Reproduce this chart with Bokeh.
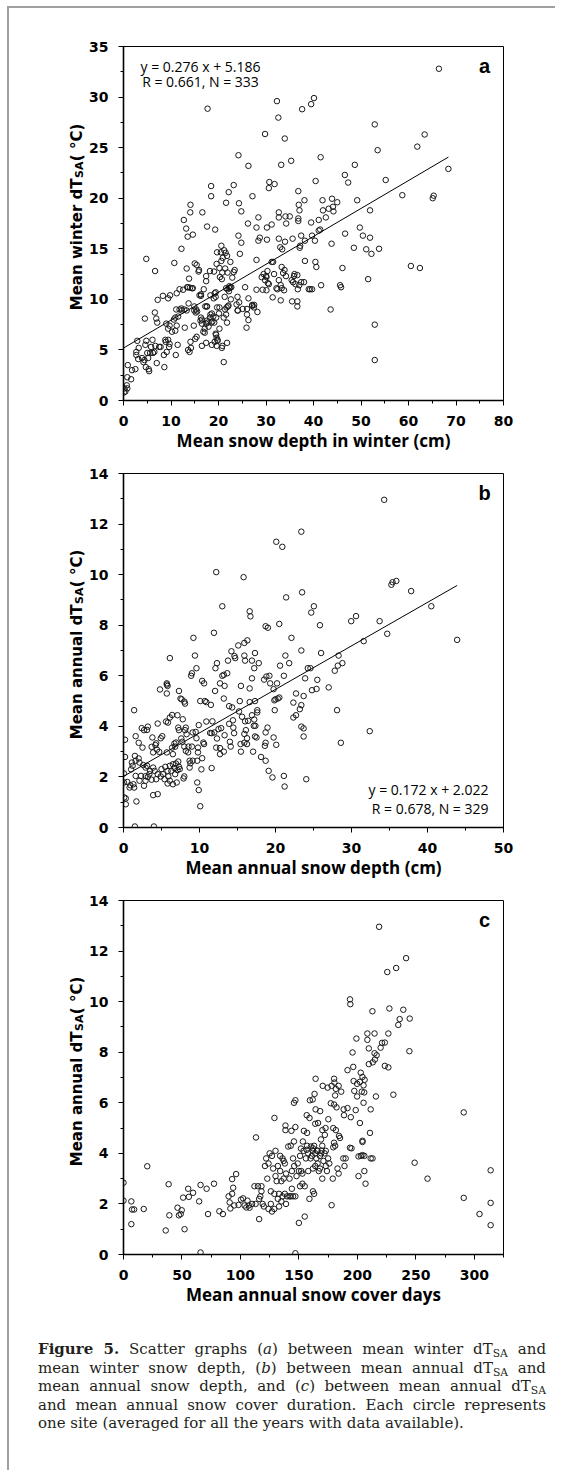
import math
from bokeh.plotting import figure
from bokeh.layouts import column, row
from bokeh.models import Range1d, SingleIntervalTicker, Label, Div
from bokeh.embed import file_html
from bokeh.resources import INLINE

# ---------------- data ----------------
# panel a: mean snow depth in winter (cm) vs mean winter dT_SA (°C)
a_pts = [
(66.4,32.8),(17.7,28.85),(32.3,29.6),(32.6,27.97),(37.6,28.8),(39.5,29.3),(40.1,29.9),(29.8,26.35),(33.95,25.9),(52.9,27.3),
(53.5,24.75),(63.4,26.3),(61.85,25.1),(24.2,24.25),(26.3,23.2),(33.2,23.3),(35.3,23.7),(41.5,24.05),(48.7,23.3),(46.6,22.3),
(47.3,21.55),(55.2,21.8),(40.45,21.7),(30.7,21.6),(30.6,21.0),(31.8,21.4),(68.4,22.9),(18.45,21.2),(18.45,20.2),(23.2,21.3),
(22.15,20.6),(27.15,20.2),(36.8,20.7),(58.7,20.3),(65.1,20.0),(65.3,20.25),(49.2,19.8),(38.1,19.8),(43.9,19.95),(41.9,19.8),
(45.0,19.6),(44.1,19.15),(43.2,18.96),(44.2,18.7),(42.0,18.8),(42.6,18.1),(21.6,19.55),(24.3,19.5),(14.1,19.35),(14.05,18.6),
(16.6,18.6),(24.8,18.7),(36.9,19.35),(37.05,18.8),(51.9,18.8),(32.7,18.6),(28.4,18.1),(32.7,18.1),(34.1,18.2),(35.0,18.2),
(36.8,18.0),(36.8,17.75),(39.5,17.6),(41.1,17.85),(12.7,17.85),(17.6,17.2),(19.3,16.9),(13.2,17.0),(13.5,16.2),(14.6,16.4),
(26.2,17.5),(28.0,17.1),(30.2,17.1),(31.2,17.4),(34.25,17.5),(41.4,16.9),(41.1,16.8),(39.7,16.3),(37.4,16.3),(46.65,16.5),
(49.75,17.1),(50.4,16.3),(51.9,16.1),(24.2,16.3),(24.8,15.6),(28.7,16.1),(28.4,15.8),(30.2,15.9),(32.7,16.0),(34.0,15.7),
(35.6,16.0),(38.2,15.8),(40.3,15.8),(43.8,15.5),(33.0,15.15),(33.4,14.95),(37.2,15.3),(37.1,15.1),(48.5,15.1),(51.1,14.95),
(52.2,14.5),(53.8,15.0),(12.2,15.0),(20.6,15.3),(19.7,14.65),(20.5,14.65),(21.2,14.85),(21.5,14.6),(21.8,14.3),(24.5,14.5),
(22.5,13.7),(20.6,13.8),(20.9,14.1),(19.6,13.5),(20.2,13.1),(18.2,12.8),(19.05,12.75),(17.4,12.3),(17.4,11.8),(20.8,12.65),
(20.3,12.2),(21.9,12.65),(21.4,13.05),(23.2,12.7),(23.4,12.9),(22.9,12.15),(22.5,11.2),(21.6,11.1),(22.3,11.1),(25.6,11.2),
(22.2,10.8),(15.0,13.55),(15.4,13.4),(13.3,13.05),(15.8,12.75),(15.9,12.9),(13.8,12.05),(13.6,11.2),(14.0,11.15),(14.4,11.1),
(10.7,13.6),(6.65,12.8),(4.8,14.0),(12.55,10.95),(11.2,10.6),(9.4,10.1),(8.3,10.35),(7.2,9.95),(9.8,10.4),(16.3,10.5),
(16.3,10.35),(14.6,11.1),(16.9,11.0),(19.4,10.7),(19.4,10.25),(19.0,10.1),(21.3,10.25),(28.0,13.9),(28.0,10.95),(29.3,10.95),
(24.0,10.25),(24.35,9.7),(26.3,10.1),(27.1,9.35),(27.45,9.2),(26.0,9.05),(27.1,9.45),(25.1,9.05),(24.0,8.9),(28.2,8.75),
(26.0,8.5),(26.3,7.95),(25.9,7.2),(27.5,9.45),
(29.5,12.5),(30.1,12.2),(30.3,12.8),(29.8,11.9),(30.4,11.6),(30.6,11.5),(31.2,13.7),(31.5,13.7),(30.0,12.3),(31.7,12.5),
(32.2,11.1),(32.7,11.9),(33.1,11.4),(33.3,13.2),(33.6,12.6),(33.9,12.9),(32.4,11.0),(33.3,11.1),(33.8,10.9),(33.1,9.9),
(31.4,10.2),(29.1,12.2),(30.1,10.9),(35.4,11.9),(35.7,11.7),(36.0,12.5),(35.9,12.3),(36.2,11.5),(36.7,11.0),(37.0,11.4),
(37.4,11.7),(38.0,11.7),(36.6,9.8),(36.6,9.3),(35.5,9.8),(38.2,13.8),(39.0,11.0),(39.3,11.0),(39.7,11.0),(40.4,13.7),
(40.6,13.2),(41.6,11.4),(43.6,9.0),(45.6,11.4),(45.8,11.2),(46.1,13.1),(51.5,12.0),(52.9,7.5),(52.9,4.0),(60.5,13.3),
(62.4,13.1),(36.6,12.4),(34.2,12.3),
(0.2,1.2),(0.1,0.8),(0.4,0.9),(0.8,1.2),(0.7,1.5),(0.8,2.3),(0.9,3.5),(1.6,2.1),(1.8,3.0),(2.5,3.1),
(2.7,4.5),(2.7,4.8),(2.9,5.9),(3.1,4.1),(3.2,5.2),(3.9,4.2),(4.2,3.8),(4.4,4.0),(4.7,3.3),(4.6,5.5),
(4.8,5.9),(5.0,4.7),(5.3,3.1),(5.4,2.9),(5.2,4.2),(5.6,4.7),(5.8,5.3),(6.1,6.0),(6.2,4.7),(6.5,4.8),
(6.7,5.4),(4.5,8.1),(6.6,8.7),(6.9,8.1),(7.1,7.7),(7.0,3.7),(7.5,5.3),(7.8,5.3),(8.6,3.3),(8.5,4.5),
(8.8,6.0),(8.9,5.8),(9.0,7.6),(9.1,4.8),(9.4,6.0),(9.6,5.3),(9.7,5.6),(9.7,7.4),(9.4,7.1),(10.2,6.8),
(11.0,4.5),(11.4,5.5),(10.9,6.9),(11.2,7.4),(10.6,8.0),(10.9,8.2),(11.1,9.0),(11.5,8.3),(11.8,9.0),(12.3,8.9),
(12.8,9.0),(13.3,8.9),(12.9,7.2),(13.7,9.6),(13.6,5.0),(13.9,4.8),(14.1,5.8),(14.2,5.2),(15.1,6.1),(15.4,6.3),
(14.8,7.4),(14.9,8.9),(15.2,8.7),(15.5,8.8),(14.9,9.3),(16.2,7.9),(16.5,7.6),(16.3,8.2),(16.5,5.4),(16.8,6.8),
(17.1,7.1),(17.1,6.7),(17.4,7.6),(17.6,7.9),(17.2,9.3),(17.6,9.3),(17.4,5.7),(17.9,7.3),(18.2,8.2),(18.5,7.7),
(18.7,7.8),(18.3,8.5),(18.6,8.6),(18.9,8.3),(19.1,7.7),(19.5,8.2),(19.5,6.5),(19.4,6.6),(19.6,6.2),(19.2,5.8),
(19.6,5.4),(18.6,5.5),(19.8,5.9),(19.8,6.0),(20.2,7.1),(20.2,9.2),(20.8,5.4),(20.7,5.2),(21.1,3.8),(21.4,9.0),
(21.7,9.2),(22.0,9.3),(21.6,8.5),(21.1,8.2),(21.8,7.7),(21.8,5.7),(22.1,9.4),(16.5,8.0),(17.7,7.7),
(11.8,11.0),(12.2,9.1),(13.4,11.2),(15.3,9.0),(16.0,10.4),(17.5,9.3),(18.3,10.4),(19.2,10.6),(20.7,12.0),(21.9,11.0),
(22.3,11.3),(22.7,11.2),(19.7,9.2),(20.1,8.6),(22.6,10.0),(23.8,9.5),(24.1,8.9),
]
a_x = [p[0] for p in a_pts]
a_y = [p[1] for p in a_pts]
a_slope, a_icpt = 0.276, 5.186

# panel b: mean annual snow depth (cm) vs mean annual dT_SA (°C)
b_pts = [
(34.3,12.96),(23.4,11.7),(20.1,11.3),(20.9,11.1),(12.2,10.1),(15.8,9.9),(35.25,9.6),(35.4,9.7),(35.9,9.75),(37.85,9.35),
(23.5,9.3),(21.4,9.1),(13.0,8.75),(25.05,8.75),(24.7,8.5),(16.6,8.55),(16.7,8.35),(40.5,8.75),(29.96,8.16),(30.6,8.36),
(33.7,8.16),(34.7,7.66),(43.9,7.42),(31.6,7.37),(25.85,8.0),(20.5,8.05),(18.7,7.96),(19.0,7.9),(9.2,7.5),(11.9,7.7),
(22.1,7.5),(16.3,7.4),(15.1,7.2),(15.9,7.3),(17.3,6.9),(9.4,6.8),(6.1,6.7),(14.2,6.97),(14.6,6.78),(14.7,6.7),
(16.0,6.6),(15.9,6.8),(16.9,6.6),(12.3,6.5),(13.75,6.6),(13.65,6.1),(13.2,6.04),(12.1,6.3),(9.6,6.3),(9.0,6.1),
(8.9,6.0),(17.8,6.5),(17.2,6.3),(21.3,6.8),(21.8,6.5),(20.6,6.4),(23.4,7.0),(26.0,6.9),(28.3,6.8),(28.8,6.5),
(28.2,6.4),(27.8,6.2),(24.25,6.3),(24.6,6.3),(23.9,5.9),(21.1,6.0),(18.5,5.85),(19.2,6.0),(19.3,5.7),(20.2,5.7),
(15.45,5.6),(16.6,5.5),(16.9,5.9),(13.3,5.6),(12.7,5.7),(13.0,6.0),(12.05,5.4),(10.35,5.8),(10.6,5.7),(5.7,5.7),
(5.7,5.65),(5.8,5.6),(4.8,5.46),(7.3,5.4),(7.5,5.1),(7.65,5.07),(8.0,4.98),(8.1,4.9),(10.1,5.0),(10.7,5.0),
(10.9,4.96),(13.2,5.1),(11.5,4.85),(15.3,5.0),(16.6,4.96),(17.3,5.0),(19.75,5.47),(20.0,5.07),(20.3,5.1),(20.5,5.14),
(19.85,5.03),(22.7,5.3),(22.35,4.94),(23.2,4.68),(23.4,4.84),(23.7,5.2),(22.7,4.44),(22.35,4.35),(24.8,5.43),(25.4,5.48),
(25.5,5.84),(27.0,5.54),(19.9,4.64),(17.6,4.64),(17.6,4.55),(15.2,4.59),(15.6,4.38),(13.9,4.8),(14.3,4.75),(14.4,4.24),
(16.0,4.2),(16.1,3.85),(15.9,3.7),(16.25,3.53),(15.9,3.35),(16.25,3.3),(15.45,3.0),(17.15,4.02),(17.35,4.02),(17.3,3.6),
(17.5,3.56),(17.05,3.0),(17.2,4.27),(16.9,4.44),(18.95,3.95),(18.7,3.76),(18.7,3.35),(18.6,3.23),(18.1,2.79),(18.7,2.64),
(19.1,2.24),(19.6,1.98),(19.75,3.56),(20.1,3.27),(21.1,2.04),(21.2,1.62),(24.05,1.91),(23.4,3.99),(23.7,3.92),(23.7,3.6),
(28.1,4.64),(32.4,3.81),(28.6,3.35),(14.0,3.39),(14.1,3.2),(13.3,3.65),(12.5,3.89),(12.3,3.52),(11.95,3.76),(11.4,3.74),
(11.6,3.73),(12.85,3.93),(12.2,3.16),(12.7,3.14),(12.7,2.9),(13.2,3.0),(11.6,2.35),(10.9,4.19),(9.9,4.05),(9.5,3.78),
(9.1,3.76),(9.6,3.53),(9.8,3.16),(9.8,2.97),(10.5,3.36),(10.35,2.74),(10.25,2.3),(9.7,2.64),(9.1,2.64),(8.8,2.54),
(9.7,1.78),(9.9,1.48),(10.1,0.84),(8.2,3.95),(8.3,3.69),(8.1,3.85),(7.75,3.39),(8.0,3.2),(8.2,3.03),(8.55,3.2),
(8.5,2.97),(8.7,2.64),(8.0,2.02),(7.9,1.94),(8.7,2.37),(7.2,3.95),(7.3,3.85),(7.8,4.28),(7.1,4.44),(6.9,3.36),
(6.8,3.2),(6.4,3.16),(6.4,4.45),(6.1,4.35),(5.6,4.19),(5.85,4.15),(4.5,4.11),(5.1,3.61),(4.9,3.53),(4.3,3.33),
(4.2,3.26),(4.4,3.08),(3.9,2.97),(4.7,2.99),(3.7,3.19),(3.8,3.56),(3.2,3.99),(3.1,3.86),(2.4,3.93),(2.7,3.85),
(1.6,3.61),(2.0,3.35),(2.5,3.16),(0.2,3.47),(1.4,4.64),(5.7,5.3),(0.2,2.79),(1.5,2.83),(1.6,2.64),(2.0,2.73),
(2.1,2.57),(1.1,2.57),(2.6,2.47),(1.0,2.3),(0.05,2.14),(1.6,2.04),(2.3,2.04),(2.9,2.03),(3.2,2.0),(2.9,1.85),
(2.7,1.65),(2.1,1.85),(2.9,2.37),(3.1,2.44),(3.5,2.24),(3.4,2.11),(3.7,1.89),(3.9,2.37),(4.1,2.24),(4.3,1.91),
(4.5,2.11),(4.9,2.02),(5.0,2.31),(5.2,2.11),(5.4,1.91),(5.8,2.24),(5.5,2.4),(5.8,1.74),(6.1,1.85),(5.9,2.02),
(6.1,2.44),(6.3,2.24),(6.5,2.5),(6.7,2.35),(6.8,2.11),(6.9,2.53),(7.1,2.27),(7.2,2.61),(7.3,2.4),(7.4,2.31),
(7.0,1.78),(6.5,1.71),(6.5,2.9),(6.7,3.32),(5.7,2.97),(4.5,1.32),(3.9,1.28),(1.7,1.03),(0.1,1.19),(0.3,0.92),
(0.3,1.15),(0.05,1.78),(0.5,1.8),(0.8,1.58),(0.9,1.67),(1.3,1.71),(1.4,1.58),(1.5,0.04),(4.0,0.04),(1.2,2.44),
(7.6,3.52),(9.0,3.2),(10.6,3.3),(11.7,4.2),(13.9,4.1),(14.45,3.95),(14.55,3.73),(15.4,3.3),(16.4,4.22),(18.8,5.97),
]
b_x = [p[0] for p in b_pts]
b_y = [p[1] for p in b_pts]
b_slope, b_icpt = 0.172, 2.022

# panel c: mean annual snow cover days vs mean annual dT_SA (°C)
c_pts = [
(0,2.84),(0,2.13),(6.7,2.1),(7.3,1.78),(9.1,1.78),(6.7,1.2),(17.3,1.8),(20.3,3.49),(36.1,0.95),(38.6,2.78),
(39.2,1.55),(46.2,1.85),(47.4,1.55),(48.9,1.6),(49.8,1.75),(52.2,1.0),(51.0,2.25),(55.3,2.6),(55.9,2.28),(59.5,2.44),
(64.7,2.1),(65.9,0.08),(65.9,2.75),(71.1,2.6),(72.3,1.6),(77.4,2.8),(82,1.71),(85,1.6),(89.9,2.3),(90.8,2.06),
(91.4,1.82),(92.9,2.4),(92.9,2.98),(93.8,2.64),(94.7,1.94),(96.3,3.18),(98.4,1.96),(100.5,2.17),(102.3,2.22),(103.6,1.94),
(105,1.86),(106,2.13),(107.2,1.94),(107.8,1.85),
(110,2.0),(112,2.7),(113,2.0),(115,2.7),(116,2.2),(116,1.4),(117,2.3),(118,2.7),(118,2.5),(119,2.0),
(120,1.9),(121,3.5),(122,3.8),(123,3.0),(124,1.8),(124,3.6),(125,4.0),(126,2.5),(126,2.0),(127,1.7),
(127,3.9),(128,3.4),(129,2.4),(129,1.8),(130,4.1),(130,3.1),(131,2.9),(132,2.2),(132,3.5),(133,2.4),
(133,1.9),(134,3.3),(134,3.9),(135,2.9),(135,2.1),(136,3.8),(136,2.3),(137,3.7),(137,3.0),(138,2.4),
(138,3.6),(139,2.0),(139,3.2),(140,2.3),(142,2.3),(142,3.0),(143,4.3),(143,2.3),(144,3.3),(144,2.6),
(145,2.3),(145,3.8),(146,3.5),(147,2.3),(147,0.05),(148,3.1),(149,3.6),(150,1.25),(150,3.3),(151,2.7),
(151,3.9),(152,3.3),(153,3.2),(153,2.8),(154,4.1),(155,2.7),(155,1.5),(156,3.8),(157,4.3),(158,4.0),
(158,3.3),(159,2.2),(160,3.8),(161,3.9),(162,4.2),(162,3.4),(162,2.5),(163,4.3),(163,2.4),(164,3.5),
(164,4.0),(165,3.8),(166,3.6),(166,4.1),(167,3.3),(168,3.9),(168,3.4),(169,4.0),(170,3.0),(170,4.3),
(171,3.7),(172,4.0),(173,3.5),(173,4.1),(174,3.3),(175,3.8),(176,3.6),(178,1.95),(179,3.0),(183,3.4),
(184,3.2),(188,3.8),(189,3.5),(190,3.8),(195,4.2),(201,3.1),(203,3.9),(206,3.9),(206,3.3),(207,2.8),
(213,3.8),
(218.6,12.96),(241.7,11.72),(233.2,11.33),(225.6,11.17),(193.7,10.09),(194.0,9.9),(212.9,9.62),(227.4,9.73),(239.3,9.68),(236.2,9.31),
(244.8,9.33),(235,9.08),(208.6,8.74),(214.7,8.74),(226.5,8.74),(199.2,8.54),(208.6,8.49),(221.1,8.37),(223.5,8.38),(219.9,8.18),
(209.8,8.15),(195.9,7.99),(244.5,8.04),(214.7,7.96),(216.5,7.88),(209.8,7.53),(213.2,7.6),(215.0,7.71),(223.5,7.46),(226.5,7.4),
(196.5,7.42),(191.6,7.29),(202.9,7.19),(204.4,7.02),(206.2,6.91),(164.3,6.95),(196.8,6.86),(180.1,6.95),(202.2,6.83),(199.8,6.75),
(205.3,6.69),(180.4,6.8),(170.4,6.67),(184,6.67),(174.6,6.6),(178,6.67),(181.6,6.55),(186.2,6.44),(197.4,6.47),(203.8,6.44),
(205.9,6.41),(181,6.29),(230.8,6.32),(199.8,6.25),(215.9,6.25),(163.4,6.35),(159.4,6.1),(147,6.1),(145.8,6.0),(161.8,6.13),
(205.3,6.0),(177.3,5.98),(180.1,5.93),(182.2,5.82),(164.3,5.74),(168.2,5.67),(188.3,5.74),(191.6,5.79),(198.6,5.71),(211.4,5.74),
(129.1,5.4),(156.7,5.51),(159.1,5.4),(188.6,5.51),(194.4,5.43),(175.2,5.35),(202.2,5.2),(164,5.17),(166.4,5.2),(179.4,5.0),
(172.8,5.0),(170.1,4.92),(138.5,5.1),(138.5,4.92),(147,5.04),(143.6,4.89),(154.3,4.89),(157,4.81),(181.6,4.92),(184.3,4.69),
(185.2,4.61),(210.8,4.81),(204.4,4.5),(204.4,4.45),(172.2,4.73),(168.9,4.55),(113.3,4.63),(145.8,4.47),(153.4,4.47),(180.1,4.42),
(181,4.3),(179.4,4.24),(140.9,4.27),(151.8,4.19),(156.7,4.14),(160.3,4.27),(161.9,4.11),(165.5,4.11),(169.5,4.11),(193.7,4.22),
(201,3.88),(204.4,3.93),(211.4,3.8),
(249,3.63),(260,3.0),(291,5.62),(291,2.24),(304.5,1.6),(314,3.33),(314,2.04),(314,1.16),
]
c_x = [p[0] for p in c_pts]
c_y = [p[1] for p in c_pts]

# ---------------- styling ----------------
TICK_FONT = "DejaVu Sans"
TITLE_FONT = "DejaVu Sans"
XLAB_FONT = "Open Sans"
EQ_FONT = "Open Sans"
TITLE_W = 77          # width of the strip holding the rotated y title
LEFT_B = 36           # left border of the main panel (frame starts at page x ~122)
FRAME_W = 381
RIGHT_B = 52
MAIN_W = LEFT_B + FRAME_W + RIGHT_B


def ytitle_strip(height, top, bottom, yr, split, main_text):
    """Narrow figure carrying the rotated y-axis title; same vertical frame as its panel."""
    t = figure(width=TITLE_W, height=height, x_range=Range1d(0, TITLE_W), y_range=Range1d(*yr),
               x_axis_type=None, y_axis_type=None, output_backend="svg", toolbar_location=None,
               min_border_left=0, min_border_right=0, min_border_top=top, min_border_bottom=bottom,
               background_fill_color="white", border_fill_color="white")
    t.grid.visible = False
    t.outline_line_color = None
    common = dict(angle=math.pi / 2, text_baseline="alphabetic", text_font=TITLE_FONT,
                  text_font_style="bold", text_color="black")
    bx = TITLE_W - 10   # baseline position (page x ~76)
    y0 = yr[0]
    # main text ends at the split point, subscript and unit start from it
    t.add_layout(Label(x=bx, y=y0, y_offset=split, text=main_text, text_align="right",
                       text_font_size="15px", **common))
    t.add_layout(Label(x=bx + 3.2, y=y0, y_offset=split + 0.5, text="SA", text_align="left",
                       text_font_size="11px", **common))
    t.add_layout(Label(x=bx, y=y0, y_offset=split + 17.3, text=" ( °C)", text_align="left",
                       text_font_size="15px", **common))
    return t


def panel(xs, ys, xr, yr, xint, yint, xlabel, height, top, bottom):
    p = figure(width=MAIN_W, height=height, x_range=Range1d(*xr), y_range=Range1d(*yr),
               output_backend="svg", toolbar_location=None,
               min_border_left=LEFT_B, min_border_right=RIGHT_B,
               min_border_top=top, min_border_bottom=bottom,
               background_fill_color="white", border_fill_color="white")
    p.grid.visible = False
    p.outline_line_color = "black"
    p.outline_line_width = 1
    p.xaxis.ticker = SingleIntervalTicker(interval=xint, num_minor_ticks=2)
    p.yaxis.ticker = SingleIntervalTicker(interval=yint, num_minor_ticks=2)
    for ax in (p.xaxis, p.yaxis):
        ax.axis_line_width = 1.6
        ax.axis_line_color = "black"
        ax.major_tick_out = 5
        ax.major_tick_in = 0
        ax.minor_tick_out = 3
        ax.minor_tick_in = 0
        ax.major_tick_line_color = "black"
        ax.minor_tick_line_color = "black"
        ax.major_label_text_font = TICK_FONT
        ax.major_label_text_font_style = "bold"
        ax.major_label_text_font_size = "14px"
        ax.major_label_text_color = "black"
    p.xaxis.major_label_standoff = 10
    p.yaxis.major_label_standoff = 10
    p.xaxis.axis_label = xlabel
    p.xaxis.axis_label_text_font = XLAB_FONT
    p.xaxis.axis_label_text_font_style = "bold"
    p.xaxis.axis_label_text_font_size = "17px"
    p.xaxis.axis_label_text_color = "black"
    p.xaxis.axis_label_standoff = 0

    p.scatter(xs, ys, marker="circle", size=5.5, fill_color=None,
              line_color="#1a1a1a", line_width=1)
    return p


pa = panel(a_x, a_y, (0, 80), (0, 35), 10, 5, "Mean snow depth in winter (cm)", 452, 38, 60)
pb = panel(b_x, b_y, (0, 50), (0, 14), 10, 2, "Mean annual snow depth (cm)", 425, 13, 58)
pc = panel(c_x, c_y, (0, 325), (0, 14), 50, 2, "Mean annual snow cover days", 435, 15, 66)

ta = ytitle_strip(452, 38, 60, (0, 35), 222, "Mean winter dT")
tb = ytitle_strip(425, 13, 58, (0, 14), 223, "Mean annual dT")
tc = ytitle_strip(435, 15, 66, (0, 14), 223, "Mean annual dT")

# regression lines
ax_line = [0, max(a_x)]
pa.line(ax_line, [a_slope * v + a_icpt for v in ax_line], line_color="black", line_width=1)
bx_line = [0, max(b_x)]
pb.line(bx_line, [b_slope * v + b_icpt for v in bx_line], line_color="black", line_width=1)

# equations
eq = dict(text_font=EQ_FONT, text_font_size="14px", text_color="black", text_baseline="middle")
pa.add_layout(Label(x=0, y=35, x_offset=77, y_offset=-20, text="y = 0.276 x + 5.186", text_align="center", **eq))
pa.add_layout(Label(x=0, y=35, x_offset=77, y_offset=-35, text="R = 0.661, N = 333", text_align="center", **eq))
pb.add_layout(Label(x=50, y=0, x_offset=-15, y_offset=38, text="y = 0.172 x + 2.022", text_align="right", **eq))
pb.add_layout(Label(x=50, y=0, x_offset=-15, y_offset=19, text="R = 0.678, N = 329", text_align="right", **eq))

# panel letters
for p, letter, xe, ye in ((pa, "a", 80, 35), (pb, "b", 50, 14), (pc, "c", 325, 14)):
    p.add_layout(Label(x=xe, y=ye, x_offset=-19, y_offset=-19, text=letter, text_align="center",
                       text_baseline="middle", text_font="Liberation Sans", text_font_style="bold",
                       text_font_size="20px", text_color="black"))

sub = '<span style="font-size:0.72em;position:relative;top:0.3em;line-height:0;">SA</span>'
cap_lines = [
    f'<b>Figure 5.</b> Scatter graphs (<i>a</i>) between mean winter dT{sub} and',
    f'mean winter snow depth, (<i>b</i>) between mean annual dT{sub} and',
    f'mean annual snow depth, and (<i>c</i>) between mean annual dT{sub}',
    'and mean annual snow cover duration. Each circle represents',
    'one site (averaged for all the years with data available).',
]
html = ('<div style="font-family:\'DejaVu Serif\';font-size:15px;line-height:18.5px;'
        'color:#231f20;width:508px;">')
for i, ln in enumerate(cap_lines):
    last = i == len(cap_lines) - 1
    al = "left" if last else "justify"
    html += (f'<div style="white-space:nowrap;height:18.5px;line-height:18.5px;'
             f'text-align:{al};text-align-last:{al};">{ln}</div>')
html += '</div>'
cap = Div(text=html, width=535, height=140, styles={"padding-left": "24px", "padding-top": "15px"})

layout = column(row(ta, pa), row(tb, pb), row(tc, pc), cap,
                styles={"margin-left": "7px", "margin-top": "6px",
                        "border-left": "2px solid #a0a0a0", "border-top": "2px solid #a0a0a0"})

open("out.html", "w").write(file_html(layout, INLINE))
